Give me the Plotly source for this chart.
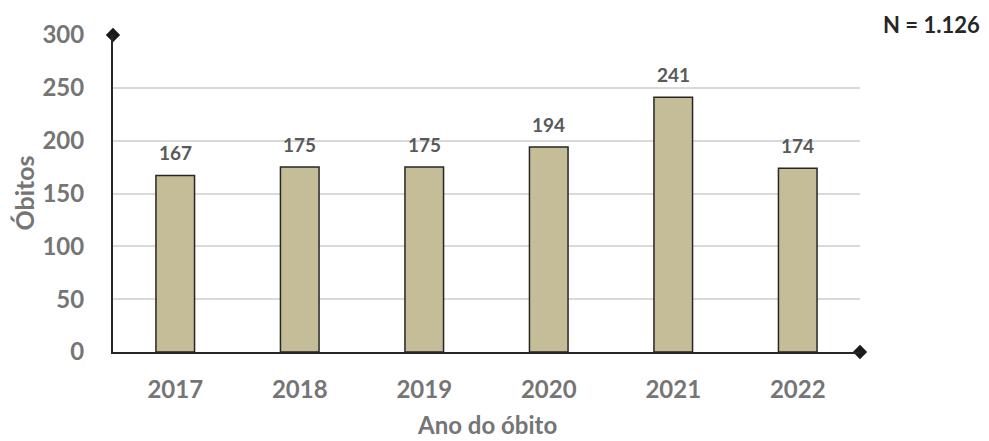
import plotly.graph_objects as go

years = ["2017", "2018", "2019", "2020", "2021", "2022"]
deaths = [167, 175, 175, 194, 241, 174]
y_ticks = [0, 50, 100, 150, 200, 250, 300]
total_label = "N = 1.126"

FONT = "Lato"
GRAY = "#757575"
xpos = list(range(len(years)))

W, H = 981, 433
ML, MR, MT, MB = 105, 129, 27, 89
PW, PH = W - ML - MR, H - MT - MB

fig = go.Figure()
fig.add_trace(go.Bar(
    x=xpos, y=deaths, width=0.31,
    marker=dict(color="#c4bd97", line=dict(color="#262626", width=1.5)),
    hoverinfo="skip", showlegend=False,
))
# diamond arrow ends of axes
fig.add_trace(go.Scatter(
    x=[-0.5, len(years) - 0.5], y=[y_ticks[-1], y_ticks[0]],
    mode="markers", marker=dict(symbol="diamond", size=11, color="#1a1a1a"),
    cliponaxis=False, showlegend=False, hoverinfo="skip",
))

for xi, v in zip(xpos, deaths):
    fig.add_annotation(x=xi, y=v, text=f"<b>{v}</b>", showarrow=False,
                       yshift=23, font=dict(family=FONT, size=19, color="#595959"))

fig.add_annotation(xref="paper", yref="paper", x=(923 - ML) / PW, y=1 + (MT - 17) / PH,
                   text=f"<b>{total_label}</b>", showarrow=False,
                   xanchor="center", yanchor="middle",
                   font=dict(family=FONT, size=22, color="#262626"))
# axis titles
fig.add_annotation(xref="paper", yref="paper", x=(15 - ML) / PW, y=0.5,
                   text="<b>Óbitos</b>", showarrow=False, textangle=-90,
                   xanchor="center", yanchor="middle",
                   font=dict(family=FONT, size=25, color=GRAY))
fig.add_annotation(xref="paper", yref="paper", x=0.5, y=-(416 - (MT + PH)) / PH,
                   text="<b>Ano do óbito</b>", showarrow=False,
                   xanchor="center", yanchor="middle",
                   font=dict(family=FONT, size=24, color=GRAY))

fig.update_layout(
    width=W, height=H,
    margin=dict(l=ML, r=MR, t=MT, b=MB, autoexpand=False),
    plot_bgcolor="white", paper_bgcolor="white",
    bargap=0.69,
    font=dict(family=FONT, color=GRAY),
    xaxis=dict(
        range=[-0.5, len(years) - 0.5],
        tickvals=xpos, ticktext=[f"<b>{y}</b>" for y in years],
        tickfont=dict(family=FONT, size=24, color=GRAY),
        showline=True, linecolor="#262626", linewidth=2,
        showgrid=False, zeroline=False,
        ticks="outside", ticklen=15, tickcolor="rgba(0,0,0,0)",
    ),
    yaxis=dict(
        range=[0, 300], tickvals=y_ticks,
        ticktext=[f"<b>{t}</b>" for t in y_ticks],
        tickfont=dict(family=FONT, size=24, color=GRAY),
        showline=True, linecolor="#262626", linewidth=2,
        showgrid=True, gridcolor="#d9d9d9", gridwidth=1.5,
        zeroline=False,
        ticks="outside", ticklen=22, tickcolor="rgba(0,0,0,0)",
    ),
)

fig.write_html("out.html")
